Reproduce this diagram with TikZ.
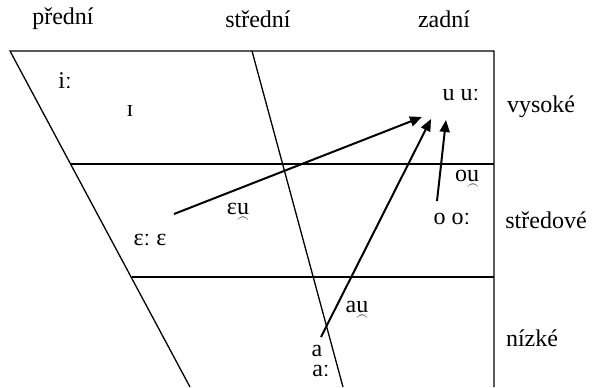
\documentclass[tikz,border=0pt]{standalone}
\usepackage{fontspec}
\setmainfont{Liberation Serif}
\usetikzlibrary{arrows.meta}
\newcommand{\usyl}{\ooalign{u\cr\hidewidth\raisebox{-0.34em}{\scalebox{0.5}[0.6]{$\frown$}}\hidewidth\cr}}
\begin{document}
\begin{tikzpicture}[x=0.5pt, y=-0.5pt, line width=0.65pt,
    lbl/.style={font=\fontsize{12}{14}\selectfont, inner sep=0pt},
    glide/.style={line width=1pt, -{Triangle[length=6pt, width=5pt]}}]
  \useasboundingbox (0,0) rectangle (605,387);
  \draw (190,387) -- (10,51) -- (494,51) -- (494,387);
  \draw (252,51) -- (343,387);
  \draw (71,164) -- (494,164);
  \draw (132,277) -- (494,277);
  \node[lbl] (front) at (63,19) {přední};
  \node[lbl] (central) at (258,19) {střední};
  \node[lbl] (back) at (444,19) {zadní};
  \node[lbl] (high) at (541,107) {vysoké};
  \node[lbl] (mid) at (546,220) {středové};
  \node[lbl] (low) at (532,338) {nízké};
  \node[lbl] (ii) at (65,81) {iː};
  \node[lbl] (ih) at (130,111) {ɪ};
  \node[lbl] (uu) at (461,95) {u uː};
  \node[lbl] (ou) at (467,180) {o\usyl};
  \node[lbl] (oo) at (452,219) {o oː};
  \node[lbl] (eu) at (238,213) {ɛ\usyl};
  \node[lbl] (ee) at (150,240) {ɛː ɛ};
  \node[lbl] (au) at (357,311) {a\usyl};
  \node[lbl] (a) at (317,351) {a};
  \node[lbl] (aa) at (321,371) {aː};
  \coordinate (eu0) at (174,214);
  \coordinate (eu1) at (422,117);
  \coordinate (au0) at (321,337);
  \coordinate (au1) at (431,119);
  \coordinate (ou0) at (437,201);
  \coordinate (ou1) at (446,120);
  \draw[glide] (eu0) -- (eu1);
  \draw[glide] (au0) -- (au1);
  \draw[glide] (ou0) -- (ou1);
\end{tikzpicture}
\end{document}
